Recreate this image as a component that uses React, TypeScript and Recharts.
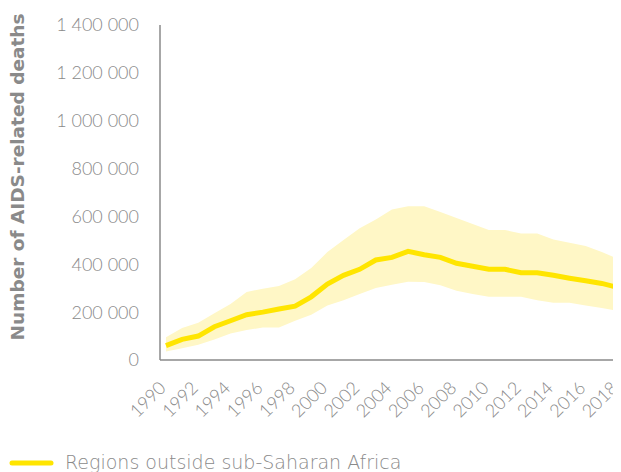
import { ComposedChart, Area, Line, XAxis, YAxis, Label } from "recharts";

const years = [1990, 1991, 1992, 1993, 1994, 1995, 1996, 1997, 1998, 1999, 2000, 2001, 2002, 2003, 2004, 2005, 2006, 2007, 2008, 2009, 2010, 2011, 2012, 2013, 2014, 2015, 2016, 2017, 2018];
const deaths = [60000, 86000, 100000, 139000, 164000, 189000, 200000, 213000, 225000, 264000, 317000, 354000, 379000, 418000, 429000, 454000, 440000, 429000, 404000, 392000, 379000, 379000, 365000, 365000, 354000, 342000, 331000, 320000, 303000];
const upper = [95000, 134000, 156000, 195000, 234000, 284000, 298000, 309000, 337000, 384000, 451000, 501000, 551000, 587000, 629000, 643000, 643000, 618000, 593000, 568000, 543000, 543000, 529000, 529000, 504000, 490000, 476000, 451000, 423000];
const lower = [36000, 49000, 64000, 86000, 111000, 125000, 136000, 136000, 164000, 189000, 228000, 250000, 276000, 301000, 314000, 327000, 326000, 312000, 289000, 276000, 264000, 264000, 264000, 250000, 239000, 239000, 228000, 217000, 206000];
const xTicks = [1990, 1992, 1994, 1996, 1998, 2000, 2002, 2004, 2006, 2008, 2010, 2012, 2014, 2016, 2018];
const yTicks = [0, 200000, 400000, 600000, 800000, 1000000, 1200000, 1400000];

const data = years.map((y, i) => ({ year: y, deaths: deaths[i], range: [lower[i], upper[i]] }));

const font = "Lato, 'Open Sans', sans-serif";
const wide = "'DejaVu Sans', sans-serif";
const grey = "#8a8a8a";

const fmt = (v: number) => String(v).replace(/\B(?=(\d{3})+(?!\d))/g, " ");

function YearTick({ x, y, payload }: any) {
  return (
    <g transform={`translate(${x + 1},${y + 27})`}>
      <text x={0} y={0} textAnchor="end" transform="rotate(-45)" fill={grey} fontSize={18} fontFamily={font} fontWeight={300}>
        {payload.value}
      </text>
    </g>
  );
}

export default function App() {
  return (
    <div style={{ position: "relative", width: 621, height: 472, marginLeft: -8, marginTop: -8, background: "#fff", overflow: "hidden" }}>
      <ComposedChart width={621} height={472} data={data} margin={{ top: 25, right: 0, bottom: 0, left: 0 }}>
        <XAxis
          dataKey="year"
          type="number"
          domain={[1989.63, 2018.19]}
          ticks={xTicks}
          interval={0}
          height={112}
          tickLine={false}
          tickSize={0}
          axisLine={{ stroke: grey, strokeWidth: 1.5 }}
          tick={<YearTick />}
        />
        <YAxis
          width={160}
          domain={[0, 1400000]}
          ticks={yTicks}
          tickFormatter={fmt}
          tickLine={false}
          tickSize={0}
          tickMargin={21}
          axisLine={{ stroke: grey, strokeWidth: 1.5 }}
          tick={{ fill: grey, fontSize: 18, fontFamily: font, fontWeight: 300 }}
        >
          <Label
            content={() => (
              <text x={24} y={177} transform="rotate(-90 24 177)" textAnchor="middle" fill={grey} fontSize={18.5} fontWeight="bold" fontFamily={wide}>
                Number of AIDS-related deaths
              </text>
            )}
          />
        </YAxis>
        <Area dataKey="range" type="linear" stroke="none" fill="#FFF7C6" fillOpacity={1} isAnimationActive={false} />
        <Line dataKey="deaths" type="linear" stroke="#FFE500" strokeWidth={5} dot={false} isAnimationActive={false} />
      </ComposedChart>
      <svg width={621} height={32} style={{ position: "absolute", left: 0, top: 440 }}>
        <line x1={12} y1={23} x2={51} y2={23} stroke="#FFE500" strokeWidth={5} strokeLinecap="round" />
        <text x={65} y={29} fill={grey} fontSize={19} fontFamily={wide} fontWeight={200}>
          Regions outside sub-Saharan Africa
        </text>
      </svg>
    </div>
  );
}
